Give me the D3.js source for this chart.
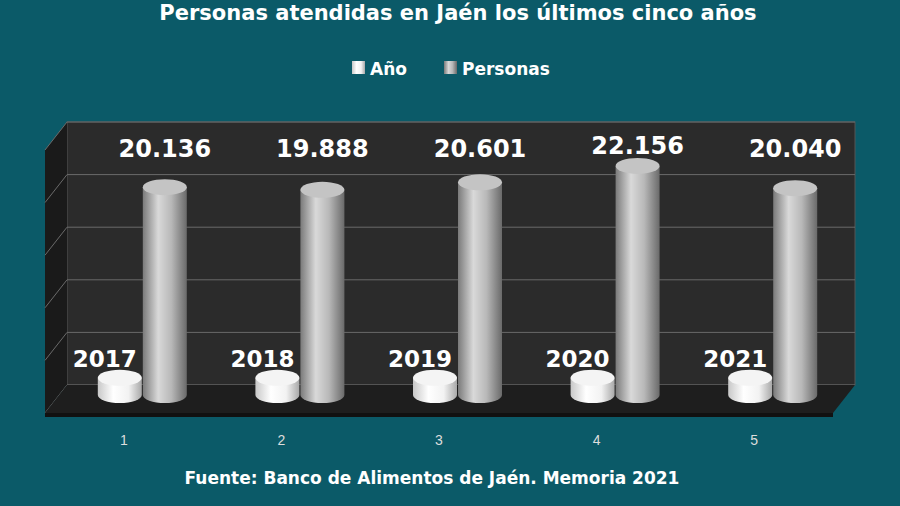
<!DOCTYPE html>
<html><head><meta charset="utf-8">
<script src="https://cdn.jsdelivr.net/npm/d3@7"></script>
<style>body{margin:0;background:#0b5a68}svg{display:block;font-family:"DejaVu Sans",Arial,sans-serif}</style>
</head><body><div id="chart"></div>
<script>
const CATEGORIES = ["1", "2", "3", "4", "5"];
const ANIO = [2017, 2018, 2019, 2020, 2021];
const PERSONAS = [20136, 19888, 20601, 22156, 20040];
const Y_TICKS = [0, 5000, 10000, 15000, 20000, 25000];

const W = 900, H = 506;
const DX = 22, DY = -28;
const svg = d3.select("#chart").append("svg").attr("width", W).attr("height", H);
const defs = svg.append("defs");

function cylGrad(id, stops) {
  const g = defs.append("linearGradient").attr("id", id).attr("x1", 0).attr("x2", 1);
  stops.forEach(([o, c]) => g.append("stop").attr("offset", o).attr("stop-color", c));
}
cylGrad("gW", [[0, "#c8c8c8"], [0.35, "#ffffff"], [0.7, "#f2f2f2"], [1, "#a8a8a8"]]);
cylGrad("gG", [[0, "#7a7a7a"], [0.35, "#d9d9d9"], [0.65, "#b8b8b8"], [1, "#6a6a6a"]]);

const x = d3.scaleBand().domain(CATEGORIES).range([45, 833]);
const y = d3.scaleLinear().domain([0, 25000]).range([413, 150]);

// title
svg.append("text").attr("x", 458).attr("y", 20).attr("text-anchor", "middle")
  .attr("fill", "#fff").attr("font-size", 21).attr("font-weight", "bold")
  .text("Personas atendidas en Jaén los últimos cinco años");

// legend
const leg = [["Año", "url(#gW)", 352], ["Personas", "url(#gG)", 444]];
leg.forEach(([t, f, lx]) => {
  svg.append("rect").attr("x", lx).attr("y", 61).attr("width", 13).attr("height", 13).attr("fill", f);
  svg.append("text").attr("x", lx + 18).attr("y", 75).attr("fill", "#fff")
    .attr("font-size", 17).attr("font-weight", "bold").text(t);
});

const x0 = x.range()[0], x1 = x.range()[1];
// back wall
svg.append("rect").attr("x", x0 + DX).attr("y", y(25000) + DY)
  .attr("width", x1 - x0).attr("height", y(0) - y(25000)).attr("fill", "#2b2b2b").attr("stroke", "#555");
// side wall
svg.append("path").attr("d", `M${x0},${y(25000)}L${x0 + DX},${y(25000) + DY}L${x0 + DX},${y(0) + DY}L${x0},${y(0)}Z`)
  .attr("fill", "#1a1a1a");
// gridlines
Y_TICKS.forEach(t => {
  svg.append("path").attr("d", `M${x0},${y(t)}L${x0 + DX},${y(t) + DY}L${x1 + DX},${y(t) + DY}`)
    .attr("fill", "none").attr("stroke", "#6a6a6a").attr("stroke-width", 1);
});
// floor
svg.append("path").attr("d", `M${x0},${y(0)}L${x0 + DX},${y(0) + DY}L${x1 + DX},${y(0) + DY}L${x1},${y(0)}Z`)
  .attr("fill", "#1e1e1e");
svg.append("rect").attr("x", x0).attr("y", y(0)).attr("width", x1 - x0).attr("height", 4).attr("fill", "#111");

// cylinders
const RX = 22, RY = 8;
function cylinder(cx, v, fill, top) {
  const yb = y(0) + DY / 2 - 4, yt = y(v) + DY / 2;
  const g = svg.append("g");
  g.append("path").attr("d", `M${cx - RX},${yt}L${cx - RX},${yb}A${RX},${RY} 0 0 0 ${cx + RX},${yb}L${cx + RX},${yt}Z`)
    .attr("fill", fill);
  g.append("ellipse").attr("cx", cx).attr("cy", yt).attr("rx", RX).attr("ry", RY).attr("fill", top);
  return yt;
}
CATEGORIES.forEach((c, i) => {
  const cx = x(c) + x.bandwidth() / 2 + DX / 2;
  cylinder(cx - 15, ANIO[i], "url(#gW)", "#f4f4f4");
  cylinder(cx + 30, PERSONAS[i], "url(#gG)", "#c4c4c4");
  svg.append("text").attr("x", cx - 30).attr("y", 367).attr("text-anchor", "middle")
    .attr("fill", "#fff").attr("font-size", 23).attr("font-weight", "bold").text(ANIO[i]);
  svg.append("text").attr("x", cx + 30).attr("y", PERSONAS[i] > 22000 ? 154 : 157).attr("text-anchor", "middle")
    .attr("fill", "#fff").attr("font-size", 24).attr("font-weight", "bold")
    .text(d3.format(",")(PERSONAS[i]).replace(",", "."));
});

// category axis
svg.append("g").attr("transform", `translate(0,${y(0) + 10})`)
  .call(d3.axisBottom(x).tickSize(0).tickPadding(12))
  .call(g => g.select(".domain").remove())
  .selectAll("text").attr("fill", "#ddd").attr("font-size", 14);

svg.append("text").attr("x", 432).attr("y", 484).attr("text-anchor", "middle")
  .attr("fill", "#fff").attr("font-size", 17).attr("font-weight", "bold")
  .text("Fuente: Banco de Alimentos de Jaén. Memoria 2021");
</script></body></html>
